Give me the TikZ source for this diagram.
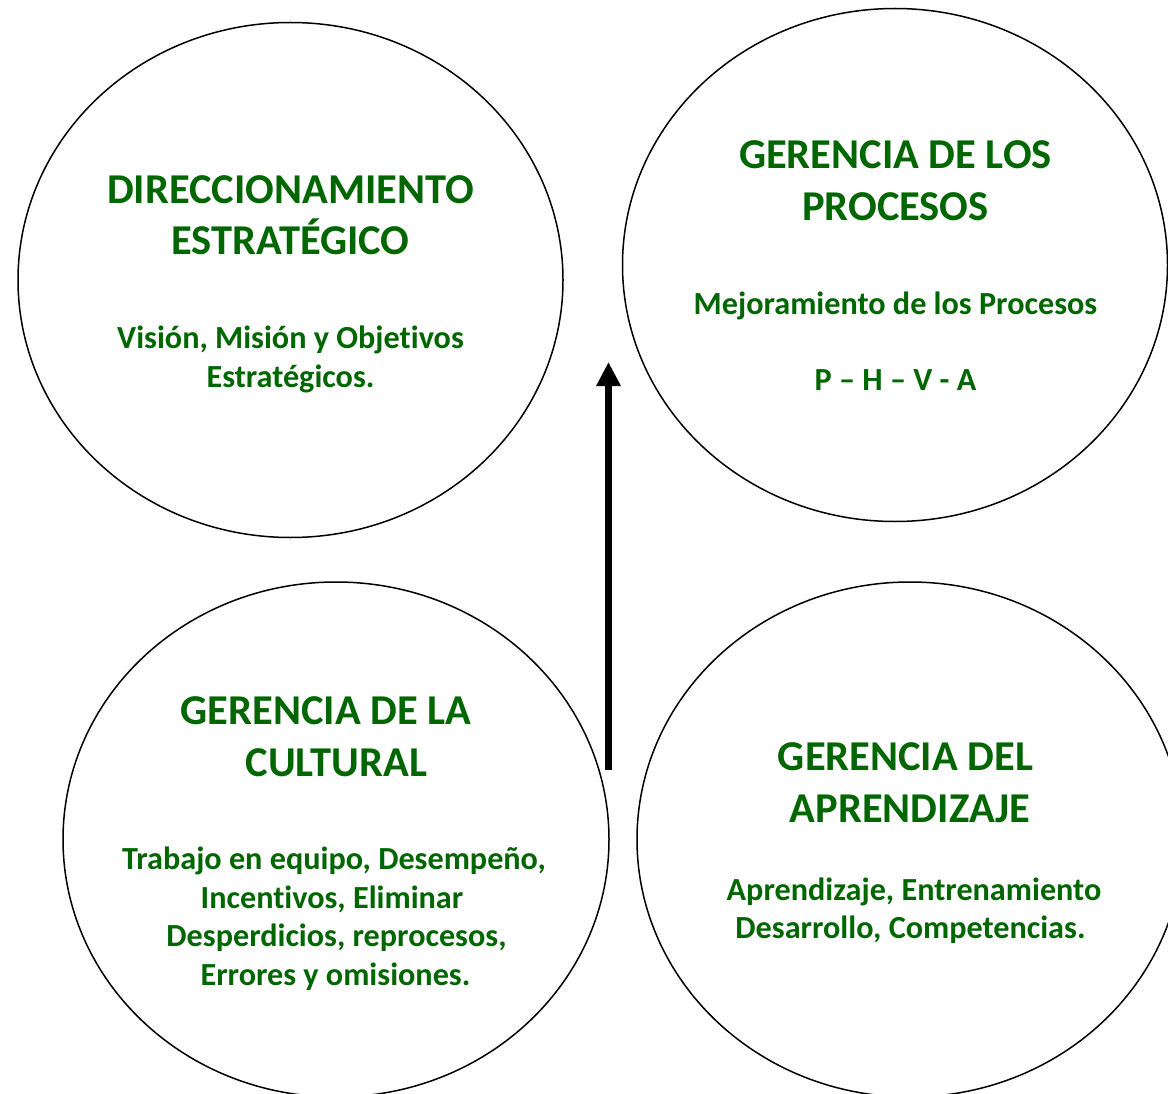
\documentclass[tikz,border=0pt]{standalone}
\usepackage{fontspec}
\setmainfont[Ligatures=NoCommon]{Carlito}
\usetikzlibrary{shapes.geometric,arrows.meta}
\definecolor{tgreen}{RGB}{0,102,0}
\tikzset{
  circ/.style={draw=black, line width=1.5pt, ellipse, inner sep=0pt, minimum width=545pt, minimum height=515pt},
  ttl/.style={anchor=base, inner sep=0pt, text=tgreen, font=\bfseries\fontsize{42.5}{50}\selectfont},
  bdy/.style={anchor=base, inner sep=0pt, text=tgreen, font=\bfseries\fontsize{32.2}{39}\selectfont},
}
\begin{document}
\begin{tikzpicture}[x=1pt,y=-1pt]
\useasboundingbox (0,0) rectangle (1168,1094);
\clip (0,0) rectangle (1168,1094);
\fill[white] (0,0) rectangle (1168,1094);
% ellipses
\node[circ] (e1) at (290.5,280) {};
\node[circ, minimum height=513pt] (e2) at (895,265) {};
\node[circ, minimum width=546pt] (e3) at (336,839.5) {};
\node[circ, minimum width=546pt] (e4) at (910,839.5) {};
% top-left
\node[ttl] (t1a) at (290.5,204) {DIRECCIONAMIENTO};
\node[ttl] (t1b) at (290.5,255) {ESTRATÉGICO};
\node[bdy] (b1a) at (290.5,348) {Visión, Misión y Objetivos};
\node[bdy] (b1b) at (290.5,387) {Estratégicos.};
% top-right
\node[ttl] (t2a) at (895.5,169) {GERENCIA DE LOS};
\node[ttl] (t2b) at (895.5,221) {PROCESOS};
\node[bdy] (b2a) at (895.5,314) {Mejoramiento de los Procesos};
\node[bdy] (b2b) at (895.5,390) {P – H – V - A};
% bottom-left
\node[ttl] (t3a) at (326,724) {GERENCIA DE LA};
\node[ttl] (t3b) at (336.5,776) {CULTURAL};
\node[bdy] (b3a) at (334,869) {Trabajo en equipo, Desempeño,};
\node[bdy] (b3b) at (332,908) {Incentivos, Eliminar};
\node[bdy] (b3c) at (336.5,946) {Desperdicios, reprocesos,};
\node[bdy] (b3d) at (335.5,985) {Errores y omisiones.};
% bottom-right
\node[ttl] (t4a) at (905.5,770) {GERENCIA DEL};
\node[ttl] (t4b) at (910,822) {APRENDIZAJE};
\node[bdy] (b4a) at (914,900) {Aprendizaje, Entrenamiento};
\node[bdy] (b4b) at (910.5,938) {Desarrollo, Competencias.};
% arrow
\coordinate (as) at (608.5,770);
\coordinate (ae) at (608.5,362);
\draw[line width=7.5pt, -{Triangle[width=23pt,length=24pt]}] (as) -- (ae);
\end{tikzpicture}
\end{document}
